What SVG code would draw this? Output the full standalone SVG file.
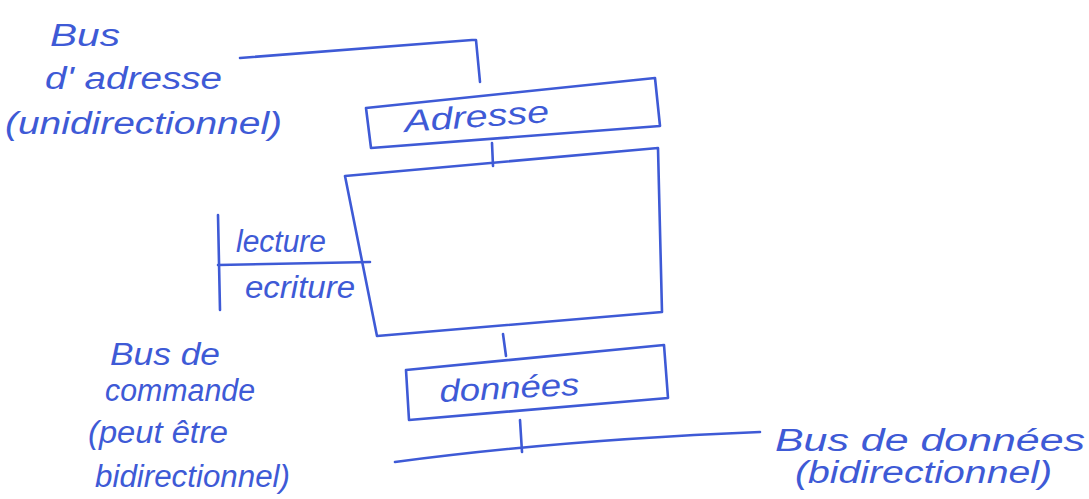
<svg xmlns="http://www.w3.org/2000/svg" width="1089" height="499" viewBox="0 0 1089 499">
<style>
.l{fill:none;stroke:#3e5ad6;stroke-width:2.6;stroke-linecap:round;stroke-linejoin:round}
.t{font-family:"Liberation Sans",Arial,sans-serif;font-style:italic;fill:#3e5ad6;font-size:31px}
</style>
<rect width="1089" height="499" fill="#fff"/>
<g id="connectors">
<path class="l" d="M240,58 L472,40 L476,40 L480,82"/>
<path class="l" d="M492,143 L493,166"/>
<path class="l" d="M218,215 L220,310"/>
<path class="l" d="M218,265 L370,262"/>
<path class="l" d="M503,334 L506,356"/>
<path class="l" d="M520,420 L522,452"/>
<path class="l" d="M395,462 Q560,440 760,432"/>
</g>
<g id="adresse">
<path class="l" d="M366,108 L655,78 L660,126 L371,148 Z"/>
<text class="t" x="405" y="132" textLength="145" lengthAdjust="spacingAndGlyphs" transform="rotate(-4 405 132)">Adresse</text>
</g>
<g id="memoire">
<path class="l" d="M345,176 L658,148 L662,312 L377,336 Z"/>
</g>
<g id="lecture-ecriture">
<text class="t" x="236" y="252" font-size="25" textLength="90" lengthAdjust="spacingAndGlyphs">lecture</text>
<text class="t" x="245" y="298" font-size="25" textLength="110" lengthAdjust="spacingAndGlyphs">ecriture</text>
</g>
<g id="donnees">
<path class="l" d="M406,370 L664,345 L668,398 L409,420 Z"/>
<text class="t" x="440" y="402" textLength="140" lengthAdjust="spacingAndGlyphs" transform="rotate(-3 440 402)">données</text>
</g>
<g id="label-bus-adresse">
<text class="t" x="50" y="46" textLength="70" lengthAdjust="spacingAndGlyphs">Bus</text>
<text class="t" x="45" y="89" textLength="177" lengthAdjust="spacingAndGlyphs">d' adresse</text>
<text class="t" x="5" y="134" textLength="277" lengthAdjust="spacingAndGlyphs">(unidirectionnel)</text>
</g>
<g id="label-bus-commande">
<text class="t" x="110" y="365" textLength="110" lengthAdjust="spacingAndGlyphs">Bus de</text>
<text class="t" x="105" y="401" textLength="150" lengthAdjust="spacingAndGlyphs">commande</text>
<text class="t" x="88" y="443" textLength="140" lengthAdjust="spacingAndGlyphs">(peut être</text>
<text class="t" x="95" y="487" textLength="195" lengthAdjust="spacingAndGlyphs">bidirectionnel)</text>
</g>
<g id="label-bus-donnees">
<text class="t" x="775" y="451" textLength="310" lengthAdjust="spacingAndGlyphs">Bus de données</text>
<text class="t" x="795" y="483" textLength="257" lengthAdjust="spacingAndGlyphs">(bidirectionnel)</text>
</g>
</svg>
